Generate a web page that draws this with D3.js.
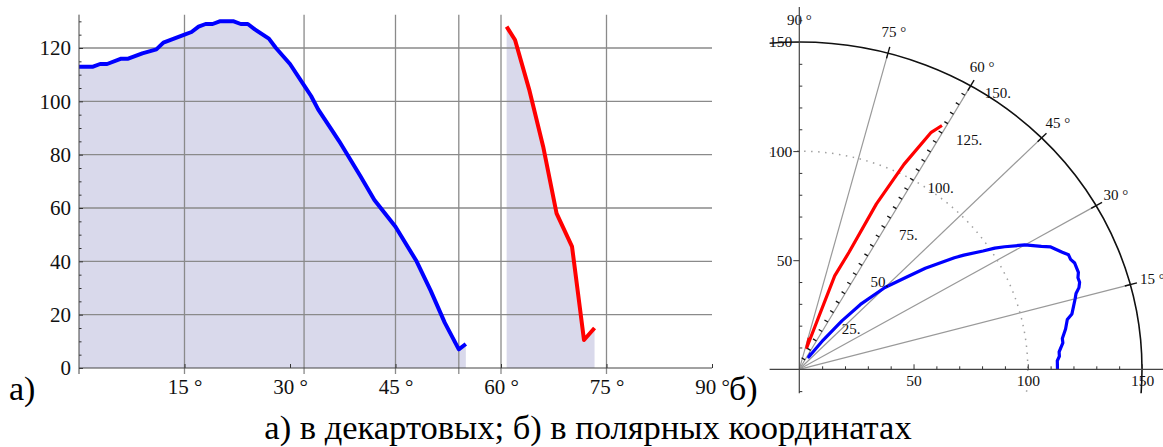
<!doctype html>
<html lang="ru">
<head>
<meta charset="utf-8">
<title>Диаграмма направленности</title>
<script src="https://cdn.jsdelivr.net/npm/d3@7"></script>
<style>
  body { margin: 0; background: #fff; }
  svg { display: block; }
  svg text { font-family: "Liberation Serif", "Times New Roman", serif; fill: #111; }
</style>
</head>
<body>
<svg width="1163" height="447"></svg>
<script>
// угол (градусы) и значение для двух участков
const blueAngles = [0, 2, 3, 4, 6, 7, 9, 11, 12, 15, 16, 17, 18, 19, 20, 22, 23, 24, 25, 27, 28, 30, 32, 33, 34, 36, 37, 40, 42, 45, 48, 50, 52, 54, 55];
const blueValues = [113, 113, 114, 114, 116, 116, 118, 119.5, 122, 125, 126, 128, 129, 129, 130, 130, 129, 129, 127, 123.5, 120, 114, 106, 102, 97, 89, 85, 72, 63, 53, 40, 29, 17, 7, 9];
const redAngles = [60.8, 62, 64, 66, 67.9, 70.1, 71.8, 73.3];
const redValues = [128, 123, 104.5, 83, 58, 45.5, 10.5, 15];

const yTicks = [0, 20, 40, 60, 80, 100, 120];
const xTicks = [15, 30, 45, 60, 75, 90];
const xGrid = [15, 32, 45, 54, 60, 75];
const polarAngles = [15, 30, 45, 60, 75];
const angleLabels = [15, 30, 45, 60, 75, 90];
const radialLabels = [25, 50, 75, 100, 125, 150];
const polarAxisTicks = [50, 100, 150];

const svg = d3.select("svg");
const blue = blueAngles.map((a, i) => ({a: a, v: blueValues[i]}));
const red = redAngles.map((a, i) => ({a: a, v: redValues[i]}));
const rad = d => d * Math.PI / 180;

// ---------- а) декартовы координаты ----------
const x = d3.scaleLinear().domain([0, 90]).range([79, 712]);
const y = d3.scaleLinear().domain([0, 120]).range([368, 48]);
const yTop = 132.5;

const area = d3.area().x(d => x(d.a)).y0(y(0)).y1(d => y(d.v));
svg.selectAll("path.fill").data([blue, red]).enter().append("path")
  .attr("class", "fill").attr("d", area).attr("fill", "#d9d9eb");

const grid = svg.append("g").attr("stroke", "#8a8a8a").attr("stroke-width", 1.3);
grid.selectAll("line.h").data(yTicks.slice(1)).enter().append("line")
  .attr("x1", x(0)).attr("x2", x(90)).attr("y1", d => y(d)).attr("y2", d => y(d));
grid.selectAll("line.v").data(xGrid).enter().append("line")
  .attr("x1", d => x(d)).attr("x2", d => x(d)).attr("y1", y(yTop)).attr("y2", y(0) + 6);

const line = d3.line().x(d => x(d.a)).y(d => y(d.v));
svg.append("path").datum(blue).attr("d", line).attr("fill", "none")
  .attr("stroke", "#0000ff").attr("stroke-width", 4).attr("stroke-linejoin", "round");
svg.append("path").datum(red).attr("d", line).attr("fill", "none")
  .attr("stroke", "#ff0000").attr("stroke-width", 4).attr("stroke-linejoin", "round");

// оси
const yAxis = svg.append("g").attr("transform", `translate(${x(0)},0)`)
  .call(d3.axisLeft(y).tickValues(yTicks).tickSize(-4).tickPadding(8));
yAxis.select(".domain").remove();
svg.append("g").attr("transform", `translate(${x(0)},0)`)
  .call(d3.axisLeft(y).tickValues(d3.range(5, 131, 5).filter(d => d % 20)).tickSize(-2.5).tickFormat(""))
  .select(".domain").remove();
svg.append("line").attr("x1", x(0)).attr("x2", x(0)).attr("y1", y(0)).attr("y2", y(yTop))
  .attr("stroke", "#444");

const xAxis = svg.append("g").attr("transform", `translate(0,${y(0)})`)
  .call(d3.axisBottom(x).tickValues(xTicks).tickSize(-4).tickPadding(11).tickFormat(d => d + " \u00b0"));
xAxis.select(".domain").remove();
svg.append("line").attr("x1", x(0)).attr("x2", x(90)).attr("y1", y(0)).attr("y2", y(0))
  .attr("stroke", "#444");
svg.append("line").attr("x1", x(0)).attr("x2", x(0)).attr("y1", y(0)).attr("y2", y(0) + 6)
  .attr("stroke", "#444");
[yAxis, xAxis].forEach(g => g.selectAll("text").style("font-size", "21px"));

// ---------- б) полярные координаты ----------
const px = d3.scaleLinear().domain([0, 150]).range([799.3, 1142]);
const py = d3.scaleLinear().domain([0, 150]).range([369.3, 42]);
const pt = (r, a) => [px(r * Math.cos(rad(a))), py(r * Math.sin(rad(a)))];

svg.append("clipPath").attr("id", "pclip").append("rect")
  .attr("x", px(-13)).attr("y", py(166)).attr("width", 1163 - px(-13)).attr("height", py(-11) - py(166));
const polar = svg.append("g").attr("clip-path", "url(#pclip)");

polar.selectAll("line.ray").data(polarAngles).enter().append("line")
  .attr("x1", px(0)).attr("y1", py(0))
  .attr("x2", d => pt(150, d)[0]).attr("y2", d => pt(150, d)[1])
  .attr("stroke", "#999").attr("stroke-width", 1.2);

polar.append("ellipse").attr("cx", px(0)).attr("cy", py(0))
  .attr("rx", px(100) - px(0)).attr("ry", py(0) - py(100))
  .attr("fill", "none").attr("stroke", "#a0a0a0").attr("stroke-width", 1.5).attr("stroke-dasharray", "1.5,5.5");
polar.append("ellipse").attr("cx", px(0)).attr("cy", py(0))
  .attr("rx", px(150) - px(0)).attr("ry", py(0) - py(150))
  .attr("fill", "none").attr("stroke", "#111").attr("stroke-width", 1.6);

// засечки на окружности и подписи углов
polar.selectAll("line.atick").data(polarAngles).enter().append("line")
  .attr("x1", d => pt(147.5, d)[0]).attr("y1", d => pt(147.5, d)[1])
  .attr("x2", d => pt(153, d)[0]).attr("y2", d => pt(153, d)[1])
  .attr("stroke", "#111").attr("stroke-width", 1.4);
svg.selectAll("text.alab").data(angleLabels).enter().append("text")
  .attr("x", d => pt(160, d)[0]).attr("y", d => pt(160, d)[1]).attr("dy", "0.35em")
  .attr("text-anchor", "middle").style("font-size", "15px")
  .text(d => d + " \u00b0");

// шкала вдоль луча 60°
const d60 = [px(Math.cos(rad(60))) - px(0), py(Math.sin(rad(60))) - py(0)];
const len60 = Math.hypot(d60[0], d60[1]);
const n60 = [d60[1] / len60, -d60[0] / len60];
svg.selectAll("line.rtick").data(d3.range(5, 150, 5)).enter().append("line")
  .attr("x1", d => pt(d, 60)[0]).attr("y1", d => pt(d, 60)[1])
  .attr("x2", d => pt(d, 60)[0] + 4 * n60[0]).attr("y2", d => pt(d, 60)[1] + 4 * n60[1])
  .attr("stroke", "#111").attr("stroke-width", 1.3);
svg.selectAll("text.rlab").data(radialLabels).enter().append("text")
  .attr("x", d => pt(d, 60)[0] + 14).attr("y", d => pt(d, 60)[1] + 7).attr("dy", "0.35em")
  .style("font-size", "15px")
  .text(d => d + ".");

// оси полярного графика
const axc = "#444";
svg.append("line").attr("x1", px(0)).attr("x2", px(0)).attr("y1", py(-11)).attr("y2", py(166))
  .attr("stroke", axc).attr("stroke-width", 1.2);
svg.append("line").attr("x1", px(-13)).attr("x2", 1163).attr("y1", py(0)).attr("y2", py(0))
  .attr("stroke", axc).attr("stroke-width", 1.2);

const pyAxis = svg.append("g").attr("transform", `translate(${px(0)},0)`)
  .call(d3.axisLeft(py).tickValues(polarAxisTicks).tickSize(6).tickPadding(1));
pyAxis.select(".domain").remove();
svg.append("g").attr("transform", `translate(${px(0)},0)`)
  .call(d3.axisRight(py).tickValues(d3.range(-10, 161, 10).filter(d => d % 50)).tickSize(3).tickFormat(""))
  .select(".domain").remove();

const pxAxis = svg.append("g").attr("transform", `translate(0,${py(0)})`)
  .call(d3.axisBottom(px).tickValues(polarAxisTicks).tickSize(-5).tickPadding(6));
pxAxis.select(".domain").remove();
svg.append("g").attr("transform", `translate(0,${py(0)})`)
  .call(d3.axisBottom(px).tickValues(d3.range(10, 161, 10).filter(d => d % 50)).tickSize(-3).tickFormat(""))
  .select(".domain").remove();
[pyAxis, pxAxis].forEach(g => g.selectAll("text").style("font-size", "15.5px"));
svg.selectAll(".tick line").attr("stroke", "#333");

// кривые в полярных координатах
const pline = d3.line().x(d => pt(d.v, d.a)[0]).y(d => pt(d.v, d.a)[1]);
polar.append("path").datum(blue).attr("d", pline).attr("fill", "none")
  .attr("stroke", "#0000ff").attr("stroke-width", 3.2).attr("stroke-linejoin", "round");
polar.append("path").datum(red).attr("d", pline).attr("fill", "none")
  .attr("stroke", "#ff0000").attr("stroke-width", 3.2).attr("stroke-linejoin", "round");

// подписи
svg.append("text").attr("x", 9).attr("y", 400).style("font-size", "34px").style("fill", "#000").text("а)");
svg.append("text").attr("x", 729).attr("y", 400).style("font-size", "34px").style("fill", "#000").text("б)");
svg.append("text").attr("x", 588).attr("y", 439).attr("text-anchor", "middle")
  .style("font-size", "34.5px").style("fill", "#000").text("а) в декартовых; б) в полярных координатах");
</script>
</body>
</html>
